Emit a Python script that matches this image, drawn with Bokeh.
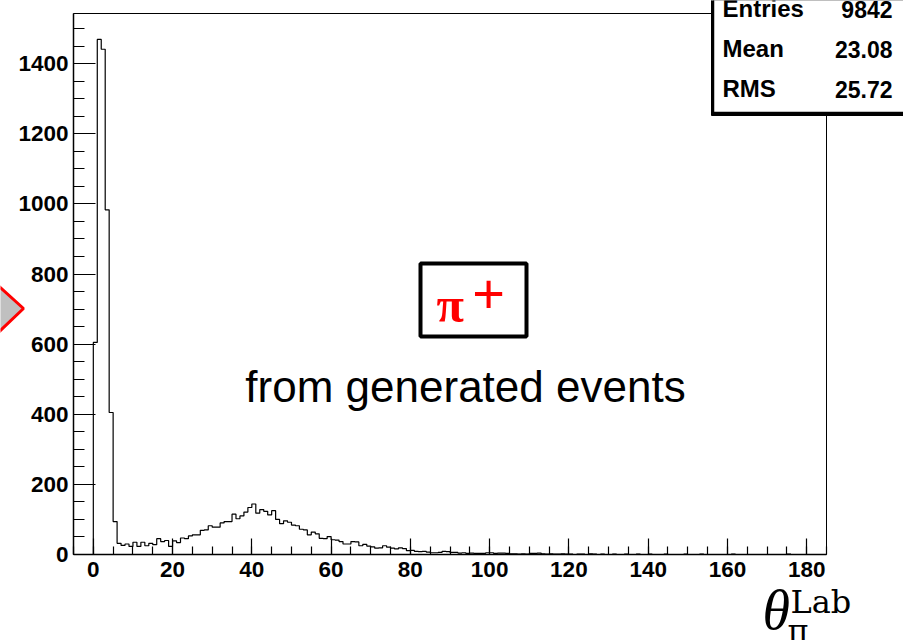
import numpy as np
from bokeh.plotting import figure
from bokeh.models import Range1d, FixedTicker, Label, BoxAnnotation, PolyAnnotation
from bokeh.embed import file_html
from bokeh.resources import INLINE

# ---------------- data ----------------
bin_lo = 0
bin_hi = 180
counts = [
    605, 1469, 1441, 983, 405, 94,
    32, 26, 30, 23, 35, 23, 35, 25, 32, 28, 45, 37, 40, 23,
    39, 34, 47, 45, 53, 56, 56, 69, 70, 82,
    78, 78, 90, 94, 94, 115, 102, 110, 121, 134,
    144, 118, 128, 123, 113, 125, 100, 88, 96, 92,
    84, 82, 72, 70, 56, 64, 59, 46, 45, 51,
    42, 41, 37, 30, 30, 37, 36, 25, 29, 24,
    22, 18, 19, 25, 21, 18, 16, 19, 17, 11,
    12, 9, 8, 9, 7, 5, 5, 6, 9, 8,
    6, 6, 4, 5, 3, 4, 3, 3, 3, 5,
    5, 3, 4, 4, 3, 2, 2, 1, 2, 1,
    3, 3, 4, 2, 1, 2, 1, 1, 2, 1,
    1, 0, 1, 1, 0, 2, 1, 0, 1, 0,
    0, 1, 0, 0, 1, 0, 0, 1, 0, 0,
    1, 0, 0, 0, 1, 0, 0, 0, 0, 1,
    0, 0, 0, 1, 0, 0, 0, 0, 0, 0,
    0, 1, 0, 0, 0, 0, 0, 0, 0, 0,
    0, 0, 0, 0, 0, 1, 0, 0, 0, 0,
]
x_ticks = [0, 20, 40, 60, 80, 100, 120, 140, 160, 180]
y_ticks = [0, 200, 400, 600, 800, 1000, 1200, 1400]
x_minor_step = 5
y_minor_step = 50
stats_names = ["Entries", "Mean", "RMS"]
stats_values = ["9842", "23.08", "25.72"]
center_text = "from generated events"

# ---------------- layout ----------------
W, H = 903, 640
FL, FR, FT, FB = 73, 826, 13, 554       # pixel box of the histogram frame
X0, X1 = -5, 185                          # histogram x range
Y0, Y1 = 0, 1543                          # histogram y range

def dx(px):
    return X0 + (px - FL) / (FR - FL) * (X1 - X0)

def dy(py):
    return Y0 + (FB - py) / (FB - FT) * (Y1 - Y0)

# the plotting frame spans the whole canvas; axes are pinned at the histogram frame
p = figure(width=W, height=H, x_range=Range1d(dx(0), dx(W)), y_range=Range1d(dy(H), dy(0)),
           output_backend="svg", toolbar_location=None, min_border=0,
           min_border_left=0, min_border_right=0, min_border_top=0, min_border_bottom=0)
p.background_fill_color = "white"
p.border_fill_color = "white"
p.outline_line_color = None
p.xgrid.visible = False
p.ygrid.visible = False

# histogram frame
p.add_layout(BoxAnnotation(left=X0, right=X1, bottom=Y0, top=Y1, fill_alpha=0,
                           line_color="black", line_alpha=1, line_width=1, level="underlay"))

# histogram outline
edges = np.arange(bin_lo, bin_hi + 1)
xs = np.concatenate([[edges[0]], np.repeat(edges, 2)[1:-1], [edges[-1]]])
ys = np.concatenate([[0], np.repeat(np.array(counts, dtype=float), 2), [0]])
p.line(xs, ys, line_color="black", line_width=1.2)

# axes
p.xaxis.ticker = FixedTicker(ticks=x_ticks, minor_ticks=list(np.arange(X0, X1 + 0.1, x_minor_step)))
p.yaxis.ticker = FixedTicker(ticks=y_ticks, minor_ticks=list(np.arange(Y0, Y1, y_minor_step)))
p.xaxis.fixed_location = Y0
p.yaxis.fixed_location = X0
p.xaxis.bounds = (X0, X1)
p.yaxis.bounds = (Y0, Y1)
for ax in (p.xaxis[0], p.yaxis[0]):
    ax.axis_line_color = "black"
    ax.axis_line_width = 1.5
    ax.major_tick_line_color = "black"
    ax.minor_tick_line_color = "black"
    ax.major_tick_line_width = 1.2
    ax.minor_tick_line_width = 1.2
    ax.major_tick_out = 0
    ax.minor_tick_out = 0
    ax.major_label_text_font = "Liberation Sans"
    ax.major_label_text_font_style = "bold"
    ax.major_label_text_font_size = "22.5px"
    ax.major_label_text_color = "black"
p.xaxis.major_tick_in = 16
p.xaxis.minor_tick_in = 8
p.xaxis.major_label_standoff = 7
p.yaxis.major_tick_in = 22
p.yaxis.minor_tick_in = 11
p.yaxis.major_label_standoff = 5


def add_text(px, py_base, text, size, font="Liberation Sans", style="normal",
             color="black", align="left"):
    shift = 0.36 * size
    p.add_layout(Label(x=dx(px), y=dy(py_base - shift), text=text, text_font=font,
                       text_font_style=style, text_font_size=f"{size}px", text_color=color,
                       text_align=align, text_baseline="alphabetic", level="overlay"))

# left cut-off marker
p.add_layout(PolyAnnotation(xs=[dx(-20), dx(23), dx(-20)], ys=[dy(269), dy(308), dy(349)],
                            fill_color="#c0c0c0", fill_alpha=1, line_color="red",
                            line_alpha=1, line_width=3, level="overlay"))

# stats box (shadow + box)
p.add_layout(BoxAnnotation(left=dx(711), right=dx(960), top=dy(-20), bottom=dy(115),
                           fill_color="black", fill_alpha=1, line_color="black",
                           line_alpha=1, line_width=1, level="overlay"))
p.add_layout(BoxAnnotation(left=dx(713), right=dx(963), top=dy(-23), bottom=dy(112),
                           fill_color="white", fill_alpha=1, line_color="black",
                           line_alpha=1, line_width=1.5, level="overlay"))
for i, (nm, vl) in enumerate(zip(stats_names, stats_values)):
    base = 17 + 40 * i
    add_text(722, base, nm, 24, style="bold")
    add_text(892, base, vl, 23, style="bold", align="right")

# pi+ box
p.add_layout(BoxAnnotation(left=dx(420), right=dx(526), top=dy(263), bottom=dy(336),
                           fill_color="white", fill_alpha=1, line_color="black",
                           line_alpha=1, line_width=4, level="overlay"))
add_text(436, 322, "π", 50, font="Liberation Serif", style="bold", color="red")
add_text(488, 314, "+", 56, color="red", align="center")

add_text(465, 402, center_text, 44, align="center")

# axis title theta_pi^Lab
add_text(762, 630, "θ", 56, font="Liberation Serif", style="italic")
add_text(790, 613, "Lab", 32, font="DejaVu Serif")
add_text(787, 642, "π", 32, font="DejaVu Serif")

open("out.html", "w").write(file_html(p, INLINE))
